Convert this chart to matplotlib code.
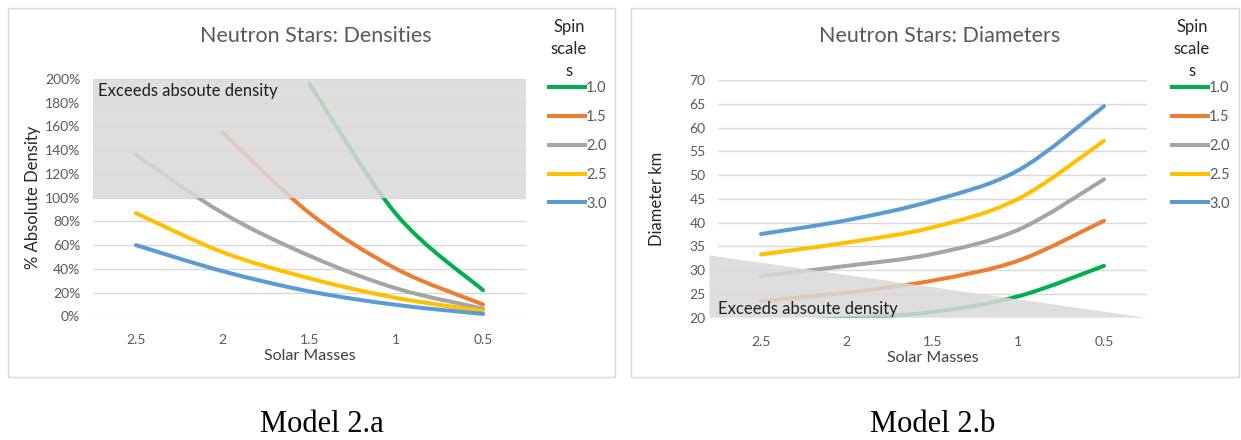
import numpy as np
import matplotlib
matplotlib.use("Agg")
import matplotlib.pyplot as plt
from matplotlib.path import Path
from matplotlib.patches import PathPatch, Rectangle, Polygon
from matplotlib.lines import Line2D

# ---------------- data ----------------
masses = [2.5, 2.0, 1.5, 1.0, 0.5]
mass_labels = ["2.5", "2", "1.5", "1", "0.5"]
spin_labels = ["1.0", "1.5", "2.0", "2.5", "3.0"]
colors = ["#00B050", "#ED7D31", "#A5A5A5", "#FFC000", "#5B9BD5"]

# % of absolute density
density_s10 = [None, None, 196, 86, 22]
density_s15 = [None, 155, 87, 40, 10]
density_s20 = [136, 87, 51, 23.5, 6.5]
density_s25 = [87, 54, 32, 15.5, 4.5]
density_s30 = [60, 38, 21, 9.6, 2]

# diameter in km
diameter_s10 = [18.9, 19.9, 21.2, 24.5, 30.9]
diameter_s15 = [23.5, 25.3, 27.8, 32.0, 40.4]
diameter_s20 = [28.8, 30.9, 33.4, 38.5, 49.1]
diameter_s25 = [33.3, 35.8, 39.0, 45.0, 57.2]
diameter_s30 = [37.6, 40.5, 44.6, 51.0, 64.5]

density_band = [100, 200]        # shaded "exceeds" band (%)
diameter_wedge = [33.1, 20.0]    # shaded wedge height at left / right edge (km)

density_series = [density_s10, density_s15, density_s20, density_s25, density_s30]
diameter_series = [diameter_s10, diameter_s15, diameter_s20, diameter_s25, diameter_s30]

# ---------------- style ----------------
FONT = ["Lato", "DejaVu Sans"]
plt.rcParams["font.family"] = FONT
TXT = "#595959"
W, H = 1241, 440


def fx(px):
    return px / W


def fy(py):
    return 1 - py / H


def smooth_path(xs, ys):
    """Excel-like smoothed line (Catmull-Rom as cubic Bezier)."""
    pts = np.array([(x, y) for x, y in zip(xs, ys) if y is not None], float)
    n = len(pts)
    verts = [pts[0]]
    codes = [Path.MOVETO]
    for i in range(n - 1):
        p0 = pts[i - 1] if i > 0 else pts[i]
        p1 = pts[i]
        p2 = pts[i + 1]
        p3 = pts[i + 2] if i + 2 < n else pts[i + 1]
        c1 = p1 + (p2 - p0) / 6.0
        c2 = p2 - (p3 - p1) / 6.0
        verts += [c1, c2, p2]
        codes += [Path.CURVE4] * 3
    return Path(verts, codes)


fig = plt.figure(figsize=(W / 100, H / 100), dpi=100)

# panel frames
for x0, x1 in [(8, 615), (631, 1239)]:
    fig.add_artist(Rectangle((fx(x0), fy(377)), fx(x1) - fx(x0), fy(8) - fy(377),
                             transform=fig.transFigure, fill=False,
                             edgecolor="#D9D9D9", lw=1.0))


def setup_axes(ax, ylim, yticks, ylabels, ylabel, ylabel_x):
    ax.set_xlim(2.75, 0.25)
    ax.set_ylim(*ylim)
    ax.set_xticks(masses)
    ax.set_xticklabels(mass_labels)
    ax.set_yticks(yticks)
    ax.set_yticklabels(ylabels)
    for s in ax.spines.values():
        s.set_visible(False)
    ax.tick_params(length=0, colors=TXT, labelsize=10)
    ax.tick_params(axis="x", pad=13)
    ax.tick_params(axis="y", pad=9)
    ax.grid(axis="y", color="#D9D9D9", lw=1.0, zorder=0)
    ax.set_axisbelow(True)
    ax.text(0.5, -0.168, "Solar Masses", transform=ax.transAxes, ha="center",
            va="center", fontsize=11.5, color="#404040")
    ax.text(ylabel_x, 0.5, ylabel, transform=ax.transAxes, ha="center",
            va="center", rotation=90, fontsize=12, color="#262626")


# ---------------- left: densities ----------------
axL = fig.add_axes([fx(92.6), fy(316.3), fx(526.4) - fx(92.6), fy(79) - fy(316.3)])
setup_axes(axL, (0, 200), list(range(0, 201, 20)),
           [f"{v}%" for v in range(0, 201, 20)], "% Absolute Density", -0.137)
for ys, c in zip(density_series, colors):
    axL.add_patch(PathPatch(smooth_path(masses, ys), fill=False, edgecolor=c,
                            lw=2.9, capstyle="round", zorder=3))
axL.add_patch(Rectangle((2.75, density_band[0]), 0.25 - 2.75,
                        density_band[1] - density_band[0],
                        facecolor="#D9D9D9", edgecolor="none", alpha=0.85, zorder=4))
axL.text(2.72, 190, "Exceeds absoute density", ha="left", va="center",
         fontsize=12, color="#1F1F1F", zorder=5)

# ---------------- right: diameters ----------------
axR = fig.add_axes([fx(718.1), fy(317.7), fx(1146.9) - fx(718.1), fy(80) - fy(317.7)])
setup_axes(axR, (20, 70), list(range(20, 71, 5)),
           [str(v) for v in range(20, 71, 5)], "Diameter km", -0.1425)
for ys, c in zip(diameter_series, colors):
    axR.add_patch(PathPatch(smooth_path(masses, ys), fill=False, edgecolor=c,
                            lw=2.9, capstyle="round", zorder=3))
axR.add_patch(Polygon([(2.80, diameter_wedge[0]), (0.25, diameter_wedge[1]),
                       (2.80, 20.0)], closed=True, facecolor="#D9D9D9",
                      edgecolor="none", alpha=0.85, zorder=4, clip_on=False))
axR.text(2.75, 21.9, "Exceeds absoute density", ha="left", va="center",
         fontsize=12, color="#1F1F1F", zorder=5)

# titles
fig.text(fx(316), fy(36), "Neutron Stars: Densities", ha="center", va="center",
         fontsize=15.5, color=TXT)
fig.text(fx(940), fy(36), "Neutron Stars: Diameters", ha="center", va="center",
         fontsize=15.5, color=TXT)

# legends
handles = [Line2D([], [], color=c, lw=2.9) for c in colors]
for title_x, leg_x in [(569, 549), (1192, 1172)]:
    fig.text(fx(title_x), fy(49), "Spin\nscale\ns", ha="center", va="center",
             fontsize=12, color="#262626", linespacing=1.45)
    fig.legend(handles, spin_labels, loc="upper left",
               bbox_to_anchor=(fx(leg_x), fy(81)), frameon=False,
               fontsize=10.5, labelcolor=TXT, handlelength=2.45,
               handletextpad=0.1, labelspacing=1.02, borderpad=0,
               borderaxespad=0)

# captions
for cx, cap in [(322, "Model 2.a"), (933, "Model 2.b")]:
    fig.text(fx(cx), fy(424), cap, ha="center", va="center", fontsize=22,
             family=["Liberation Serif", "DejaVu Serif"], color="black")

fig.savefig("out.png", dpi=100)
